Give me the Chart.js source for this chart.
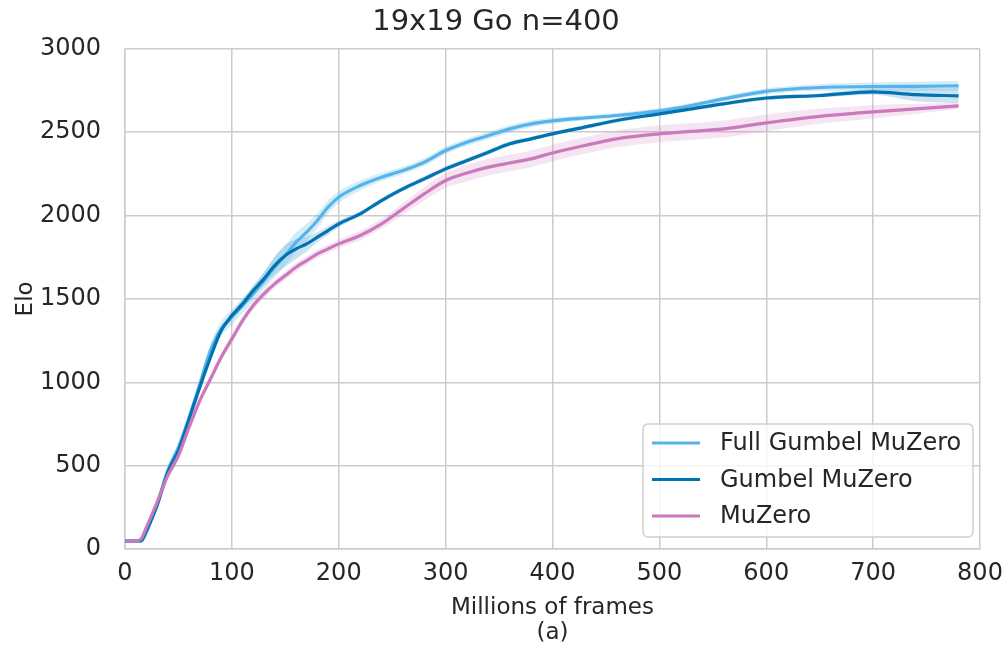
<!DOCTYPE html>
<html>
<head>
<meta charset="utf-8">
<script src="https://cdn.jsdelivr.net/npm/chart.js@4"></script>
<style>
  html, body { margin: 0; padding: 0; background: #fff; }
  #wrap { width: 1006px; height: 646px; position: relative; }
</style>
</head>
<body>
<div id="wrap"><canvas id="eloChart"></canvas></div>
<script>
// Datos (millones de frames -> Elo)
const frames = [0, 10, 15, 20, 30, 40, 50, 60, 70, 80, 90, 100, 110, 120, 130, 140, 150, 160, 170, 180, 190, 200,
    220, 240, 260, 280, 300, 320, 340, 360, 380, 400, 430, 460, 500, 530, 560, 600, 650, 700, 740, 780];

const fullGumbel = [48, 48, 48, 100, 270, 470, 610, 790, 990, 1190, 1320, 1390, 1460, 1530, 1610, 1690, 1760, 1840, 1900, 1970, 2050, 2110,
    2180, 2230, 2270, 2320, 2390, 2440, 2480, 2520, 2550, 2568, 2585, 2600, 2628, 2660, 2700, 2745, 2768, 2773, 2775, 2778];
const fullGumbelSpread = [8, 8, 8, 15, 20, 25, 25, 25, 30, 40, 45, 45, 45, 45, 50, 60, 60, 60, 50, 45, 40, 35,
    30, 25, 22, 22, 22, 22, 22, 22, 20, 18, 15, 15, 15, 15, 15, 18, 20, 25, 28, 30];

const gumbel = [48, 48, 48, 110, 260, 460, 590, 780, 970, 1150, 1310, 1400, 1470, 1550, 1620, 1700, 1760, 1800, 1830, 1870, 1910, 1950,
    2010, 2090, 2160, 2220, 2280, 2330, 2380, 2430, 2460, 2490, 2530, 2570, 2610, 2640, 2670, 2705, 2720, 2742, 2725, 2718];
const gumbelSpread = [8, 8, 8, 15, 20, 20, 20, 20, 20, 20, 20, 20, 25, 30, 40, 55, 65, 60, 45, 30, 25, 20,
    15, 15, 15, 15, 15, 15, 15, 15, 12, 12, 12, 12, 12, 12, 12, 12, 12, 18, 40, 45];

const muzero = [48, 48, 60, 130, 280, 440, 560, 730, 890, 1020, 1150, 1260, 1370, 1460, 1530, 1590, 1640, 1690, 1730, 1770, 1800, 1830,
    1880, 1950, 2040, 2130, 2210, 2255, 2290, 2315, 2340, 2375, 2420, 2460, 2490, 2505, 2520, 2556, 2595, 2622, 2640, 2658];
const muzeroSpread = [8, 8, 10, 15, 20, 25, 25, 25, 25, 25, 25, 25, 25, 25, 25, 25, 25, 25, 25, 25, 25, 25,
    28, 30, 35, 40, 45, 50, 50, 50, 50, 50, 50, 50, 50, 50, 50, 50, 45, 40, 30, 18];

const xTicks = [0, 100, 200, 300, 400, 500, 600, 700, 800];
const yTicks = [0, 500, 1000, 1500, 2000, 2500, 3000];

const seriesNames = ['Full Gumbel MuZero', 'Gumbel MuZero', 'MuZero'];
const seriesColors = ['#56B4E9', '#0173B2', '#CC78BC'];
const bandColors = ['rgba(86, 180, 233, 0.25)', 'rgba(1, 115, 178, 0.2)', 'rgba(204, 120, 188, 0.2)'];

function toPoints(values) {
    return values.map(function (v, i) { return { x: frames[i], y: v }; });
}
function offsetPoints(values, spread, sign) {
    return values.map(function (v, i) { return { x: frames[i], y: v + sign * spread[i] }; });
}

const allValues = [fullGumbel, gumbel, muzero];
const allSpreads = [fullGumbelSpread, gumbelSpread, muzeroSpread];

const datasets = [];
// Líneas principales (MuZero arriba de todo)
allValues.forEach(function (vals, k) {
    datasets.push({
        label: seriesNames[k],
        data: toPoints(vals),
        borderColor: seriesColors[k],
        borderWidth: 3.2,
        pointRadius: 0,
        fill: false,
        cubicInterpolationMode: 'monotone',
        order: 2 - k
    });
});
// Bandas de confianza
allValues.forEach(function (vals, k) {
    datasets.push({
        label: 'band-low-' + k,
        data: offsetPoints(vals, allSpreads[k], -1),
        borderWidth: 0,
        borderColor: 'rgba(0,0,0,0)',
        pointRadius: 0,
        fill: false,
        cubicInterpolationMode: 'monotone',
        order: 10
    });
    datasets.push({
        label: 'band-high-' + k,
        data: offsetPoints(vals, allSpreads[k], 1),
        borderWidth: 0,
        borderColor: 'rgba(0,0,0,0)',
        backgroundColor: bandColors[k],
        pointRadius: 0,
        fill: '-1',
        cubicInterpolationMode: 'monotone',
        order: 10
    });
});

// Leyenda dibujada dentro del área del gráfico
const insideLegend = {
    id: 'insideLegend',
    afterDraw: function (chart) {
        const ctx = chart.ctx;
        const area = chart.chartArea;
        const w = 330, h = 113;
        const x0 = area.right - 7 - w;
        const y0 = area.bottom - 12 - h;
        ctx.save();
        ctx.beginPath();
        ctx.roundRect(x0, y0, w, h, 5);
        ctx.fillStyle = 'rgba(255,255,255,0.8)';
        ctx.fill();
        ctx.strokeStyle = '#d0d0d0';
        ctx.lineWidth = 1.5;
        ctx.stroke();
        ctx.font = '24px "DejaVu Sans"';
        ctx.textBaseline = 'middle';
        seriesNames.forEach(function (name, k) {
            const yy = y0 + 19 + k * 36.5;
            ctx.beginPath();
            ctx.moveTo(x0 + 9, yy);
            ctx.lineTo(x0 + 57, yy);
            ctx.strokeStyle = seriesColors[k];
            ctx.lineWidth = 3.2;
            ctx.stroke();
            ctx.fillStyle = '#262626';
            ctx.fillText(name, x0 + 77, yy + 1);
        });
        ctx.restore();
    }
};

const ctx = document.getElementById('eloChart').getContext('2d');
new Chart(ctx, {
    type: 'line',
    data: { datasets: datasets },
    plugins: [insideLegend],
    options: {
        responsive: true,
        maintainAspectRatio: false,
        animation: false,
        layout: { padding: { top: 0, right: 26, bottom: 0, left: 12 } },
        plugins: {
            legend: { display: false },
            tooltip: { enabled: false },
            title: {
                display: true,
                text: '19x19 Go n=400',
                color: '#262626',
                font: { family: 'DejaVu Sans', size: 29, weight: 'normal' },
                padding: { top: 5, bottom: 9 }
            }
        },
        scales: {
            x: {
                type: 'linear',
                min: 0,
                max: 800,
                afterBuildTicks: function (scale) {
                    scale.ticks = xTicks.map(function (v) { return { value: v }; });
                },
                afterFit: function (scale) {
                    scale.height = 97;
                    scale.paddingRight = 0;
                    scale.paddingLeft = 0;
                },
                ticks: {
                    color: '#262626',
                    font: { family: 'DejaVu Sans', size: 24 },
                    padding: 10,
                    maxRotation: 0,
                    callback: function (value) { return String(value); }
                },
                grid: { color: '#cccccc', lineWidth: 1.5, drawTicks: false },
                border: { color: '#cccccc', width: 1.5 },
                title: {
                    display: true,
                    text: ['Millions of frames', '(a)'],
                    color: '#262626',
                    font: { family: 'DejaVu Sans', size: 23, lineHeight: 1.1 },
                    padding: { top: 0, bottom: 0 }
                }
            },
            y: {
                min: 0,
                max: 3000,
                afterBuildTicks: function (scale) {
                    scale.ticks = yTicks.map(function (v) { return { value: v }; });
                },
                afterFit: function (scale) {
                    scale.width = 113;
                },
                ticks: {
                    color: '#262626',
                    font: { family: 'DejaVu Sans', size: 24 },
                    padding: 24,
                    callback: function (value) { return String(value); }
                },
                grid: { color: '#cccccc', lineWidth: 1.5, drawTicks: false },
                border: { color: '#cccccc', width: 1.5 },
                title: {
                    display: true,
                    text: 'Elo',
                    color: '#262626',
                    font: { family: 'DejaVu Sans', size: 23 },
                    padding: { top: 0, bottom: 0 }
                }
            }
        }
    }
});
</script>
</body>
</html>
